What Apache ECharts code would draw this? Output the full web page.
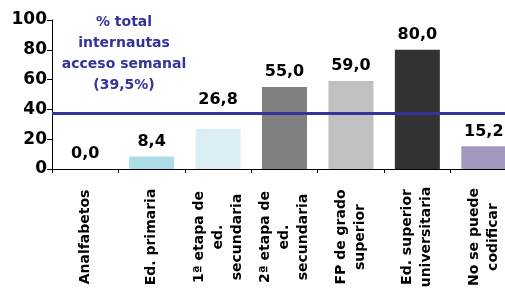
<!DOCTYPE html>
<html>
<head>
<meta charset="utf-8">
<script src="https://cdn.jsdelivr.net/npm/echarts@6/dist/echarts.min.js"></script>
<style>
  html, body { margin: 0; padding: 0; background: #fff; overflow: hidden; }
  #main { width: 520px; height: 291px; }
</style>
</head>
<body>
<div id="main"></div>
<script>
var categories = [
  'Analfabetos',
  'Ed. primaria',
  '1ª etapa de\ned.\nsecundaria',
  '2ª etapa de\ned.\nsecundaria',
  'FP de grado\nsuperior',
  'Ed. superior\nuniversitaria',
  'No se puede\ncodificar'
];
var values = [0.0, 8.4, 26.8, 55.0, 59.0, 80.0, 15.2];
var barColors = ['#ffffff', '#acdde8', '#daeef4', '#808080', '#c0c0c0', '#333333', '#a399bf'];
var refLineValue = 37.5;
var refLabel = '% total\ninternautas\nacceso semanal\n(39,5%)';
var yTicks = [0, 20, 40, 60, 80, 100];

var font = 'DejaVu Sans';
var myChart = echarts.init(document.getElementById('main'));
myChart.setOption({
  animation: false,
  title: {
    text: refLabel,
    left: 119,
    top: 7,
    textAlign: 'center',
    textStyle: {
      color: '#333399',
      fontFamily: font,
      fontWeight: 'bold',
      fontSize: 14,
      lineHeight: 21
    }
  },
  // plot runs past the window's right edge, like the reference
  grid: { left: 52, top: 20, right: 3, bottom: 122 },
  xAxis: {
    type: 'category',
    data: categories,
    axisLine: { lineStyle: { color: '#000', width: 1 } },
    axisTick: { show: true, length: 4, lineStyle: { color: '#000' } },
    axisLabel: {
      rotate: 90,
      interval: 0,
      align: 'center',
      verticalAlign: 'middle',
      margin: 68,
      color: '#000',
      fontFamily: font,
      fontWeight: 'bold',
      fontSize: 14,
      lineHeight: 19
    }
  },
  yAxis: {
    type: 'value',
    min: yTicks[0],
    max: yTicks[yTicks.length - 1],
    interval: 20,
    splitLine: { show: false },
    axisLine: { show: true, lineStyle: { color: '#000', width: 1 } },
    axisTick: { show: true, length: 5, lineStyle: { color: '#000' } },
    axisLabel: {
      margin: 5,
      color: '#000',
      fontFamily: font,
      fontWeight: 'bold',
      fontSize: 17
    }
  },
  series: [{
    type: 'bar',
    barWidth: 45,
    data: values.map(function (v, i) {
      var item = { value: v, itemStyle: { color: barColors[i] } };
      // the 26,8 label sits above the reference line
      if (i === 2) item.label = { offset: [0, -14] };
      return item;
    }),
    label: {
      show: true,
      position: 'top',
      distance: 7,
      color: '#000',
      fontFamily: font,
      fontWeight: 'bold',
      fontSize: 16,
      formatter: function (p) { return p.value.toFixed(1).replace('.', ','); }
    },
    markLine: {
      silent: true,
      symbol: ['none', 'none'],
      label: { show: false },
      lineStyle: { color: '#333399', width: 3, type: 'solid' },
      data: [{ yAxis: refLineValue }]
    }
  }]
});
</script>
</body>
</html>
